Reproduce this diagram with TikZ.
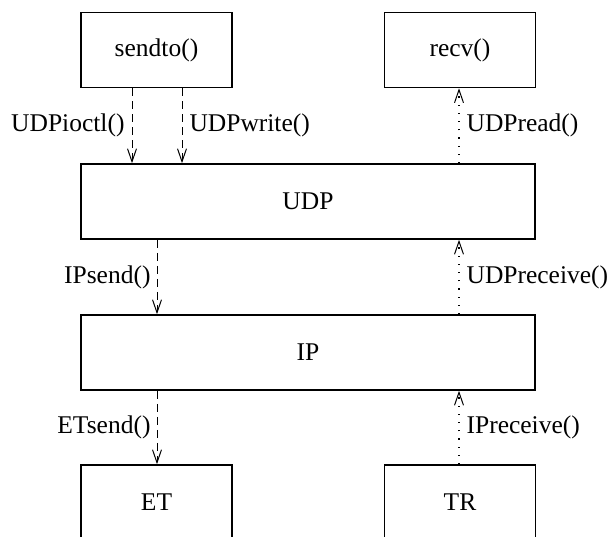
\documentclass[tikz,border=0pt]{standalone}
\usepackage{fontspec}
\setmainfont{Liberation Serif}
\usetikzlibrary{arrows.meta}

\tikzset{
  layer/.style={draw, line width=1.6pt, rectangle, inner sep=0pt,
                minimum height=75pt, font=\fontsize{25.5}{30}\selectfont},
  narrowbox/.style={layer, minimum width=151pt},
  widebox/.style={layer, minimum width=454pt},
  callout/.style={line width=1pt, dashed, dash pattern=on 8pt off 5pt,
                  -{Straight Barb[length=13pt,width=9pt,line width=1pt]}},
  callin/.style={line width=1.2pt, dash pattern=on 1.2pt off 7pt,
                 -{Straight Barb[length=13pt,width=9pt,line width=1pt]}},
  fname/.style={font=\fontsize{25.5}{30}\selectfont, inner sep=0pt}
}

\begin{document}
\begin{tikzpicture}[x=1pt, y=-1pt]
  \useasboundingbox (0,0) rectangle (611,537);
  \clip (0,0) rectangle (611,537);

  % upper application calls
  \node[narrowbox] (sendto) at (156.5,50) {sendto()};
  \node[narrowbox] (recv)   at (460,50)   {recv()};

  % protocol layers
  \node[widebox] (udp) at (308,201.5) {UDP};
  \node[widebox] (ip)  at (308,352.5) {IP};

  % lower interfaces
  \node[narrowbox] (et) at (156.5,502.5) {ET};
  \node[narrowbox] (tr) at (460,502.5)   {TR};

  % outgoing path
  \draw[callout] (sendto.south -| 132,0) -- (udp.north -| 132,0)
    node[fname, midway, anchor=east, xshift=-7pt] {UDPioctl()};
  \draw[callout] (sendto.south -| 182,0) -- (udp.north -| 182,0)
    node[fname, midway, anchor=west, xshift=7pt] {UDPwrite()};
  \draw[callout] (udp.south -| 157,0) -- (ip.north -| 157,0)
    node[fname, midway, anchor=east, xshift=-6pt] {IPsend()};
  \draw[callout] (ip.south -| 157,0) -- (et.north -| 157,0)
    node[fname, midway, anchor=east, xshift=-6pt] {ETsend()};

  % incoming path
  \draw[callin] (udp.north -| 459,0) -- (recv.south -| 459,0)
    node[fname, midway, anchor=west, xshift=7pt] {UDPread()};
  \draw[callin] (ip.north -| 459,0) -- (udp.south -| 459,0)
    node[fname, midway, anchor=west, xshift=7pt] {UDPreceive()};
  \draw[callin] (tr.north -| 459,0) -- (ip.south -| 459,0)
    node[fname, midway, anchor=west, xshift=7pt] {IPreceive()};
\end{tikzpicture}
\end{document}
